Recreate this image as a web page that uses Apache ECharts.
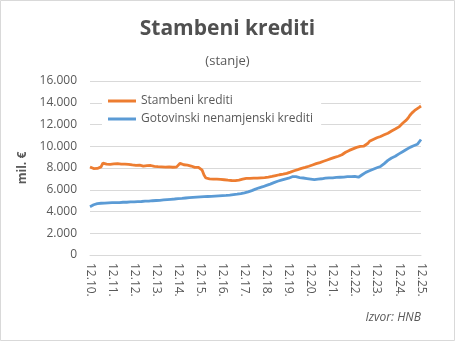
<!DOCTYPE html>
<html><head><meta charset="utf-8">
<script src="https://cdn.jsdelivr.net/npm/echarts@6/dist/echarts.min.js"></script>
<style>html,body{margin:0;padding:0;background:#fff}#c{width:455px;height:341px}</style>
</head><body><div id="c"></div>
<script>
// Monthly data, 12.2010 .. 12.2025 (mil. €)
const startYear = 2010;
const tickYears = ['12.10.','12.11.','12.12.','12.13.','12.14.','12.15.','12.16.','12.17.','12.18.','12.19.','12.20.','12.21.','12.22.','12.23.','12.24.','12.25.'];
const stambeni = [8100,
 7980,7950,7940,7960,7930,8100,8450,8400,8350,8380,8330,8360,
 8370,8320,8400,8380,8350,8390,8360,8300,8340,8330,8280,8300,
 8250,8310,8270,8200,8180,8240,8210,8170,8230,8200,8150,8180,
 8120,8160,8100,8140,8080,8060,8100,8050,8070,8040,8080,8060,
 8430,8380,8300,8250,8270,8200,8180,8150,8060,8080,8050,8000,
 7800,7350,7080,7030,7000,6990,6970,6960,6980,6950,6960,6940,
 6920,6900,6880,6860,6850,6840,6830,6850,6890,6930,6980,7020,
 7040,7030,7050,7040,7060,7050,7070,7080,7100,7090,7120,7140,
 7160,7180,7220,7250,7300,7330,7380,7400,7430,7470,7500,7550,
 7620,7680,7750,7800,7850,7900,7960,8000,8050,8100,8160,8200,
 8280,8340,8400,8450,8500,8560,8620,8680,8740,8800,8860,8920,
 8980,9030,9080,9150,9220,9320,9450,9550,9620,9700,9760,9820,
 9900,9960,9990,10000,10020,10100,10250,10450,10550,10620,10700,10780,
 10850,10900,10980,11050,11120,11200,11300,11400,11500,11580,11680,11780,
 11950,12110,12250,12400,12600,12850,13050,13200,13350,13450,13580,13700];
const gotovinski = [4440,
 4550,4620,4680,4730,4750,4760,4780,4770,4790,4800,4780,4810,
 4800,4820,4830,4810,4840,4850,4860,4850,4870,4880,4870,4890,
 4900,4910,4890,4920,4940,4950,4960,4950,4970,4990,5000,5010,
 5020,5030,5040,5060,5080,5090,5110,5120,5140,5150,5170,5190,
 5200,5210,5230,5240,5260,5270,5290,5300,5310,5320,5330,5340,
 5350,5360,5370,5380,5390,5400,5410,5420,5430,5440,5450,5460,
 5470,5480,5500,5510,5530,5550,5570,5590,5620,5650,5680,5720,
 5760,5800,5850,5920,6000,6060,6120,6180,6230,6280,6330,6400,
 6450,6520,6590,6650,6710,6780,6830,6880,6930,6980,7030,7060,
 7120,7200,7220,7200,7150,7120,7100,7080,7050,7030,7000,6980,
 6950,6930,6960,6980,7000,7010,7040,7060,7080,7090,7110,7100,
 7120,7130,7140,7150,7170,7160,7190,7200,7180,7210,7200,7220,
 7180,7150,7260,7380,7500,7600,7660,7740,7800,7880,7950,8020,
 8080,8140,8250,8400,8550,8700,8850,8920,8980,9080,9200,9300,
 9400,9500,9600,9700,9800,9900,9980,10040,10100,10180,10270,10620];
const seriesNames = ['Stambeni krediti','Gotovinski nenamjenski krediti'];

const categories = [];
for (let i = 0; i < stambeni.length; i++) {
  const m = (11 + i) % 12 + 1;
  const y = startYear + Math.floor((11 + i) / 12);
  categories.push(String(m).padStart(2,'0') + '.' + String(y % 100).padStart(2,'0') + '.');
}
const font = '"Open Sans", sans-serif';
const txt = '#595959';
const chart = echarts.init(document.getElementById('c'), null, {renderer:'canvas'});
chart.setOption({
  animation:false,
  backgroundColor:'#fff',
  title:[
    {text:'Stambeni krediti', left:'center', top:14, textStyle:{fontFamily:font, fontSize:21, fontWeight:'bold', color:'#505050'}},
    {text:'(stanje)', left:'center', top:50, textStyle:{fontFamily:font, fontSize:13, fontWeight:'normal', color:txt}}
  ],
  graphic:[
    {type:'rect', shape:{x:0.5,y:0.5,width:454,height:340}, style:{fill:'none', stroke:'#d9d9d9', lineWidth:1}, z:-1},
    {type:'text', right:34, top:312, style:{text:'Izvor: HNB', font:'italic 12px "Open Sans", sans-serif', fill:txt}}
  ],
  legend:{
    left:102, top:94, orient:'vertical', itemGap:6,
    backgroundColor:'#fff', padding:[1,8,1,6],
    icon:'rect', itemWidth:28, itemHeight:3, itemHeight:16,
    textStyle:{fontFamily:font, fontSize:12, color:txt},
    data:seriesNames.map(n => ({name:n, icon:'path://M0,6.5L28,6.5L28,9.5L0,9.5Z'}))
  },
  grid:{left:90, right:34, top:81, bottom:86},
  xAxis:{
    type:'category', boundaryGap:false, data:categories,
    axisLine:{show:true, lineStyle:{color:'#d9d9d9'}},
    axisTick:{show:false},
    axisLabel:{interval:11, rotate:-90, margin:8, fontFamily:font, fontSize:12, color:txt,
      formatter:(v, i) => tickYears[Math.floor(i/12)] || v}
  },
  yAxis:{
    type:'value', min:0, max:16000, interval:2000,
    name:'mil. €', nameLocation:'middle', nameRotate:90, nameGap:56,
    nameTextStyle:{fontFamily:font, fontSize:12, fontWeight:'bold', color:txt},
    axisLine:{show:false}, axisTick:{show:false},
    splitLine:{lineStyle:{color:'#d9d9d9', width:1}},
    axisLabel:{margin:13, fontFamily:font, fontSize:12, color:txt,
      formatter:v => v === 0 ? '0' : (v/1000) + '.000'}
  },
  series:[
    {name:seriesNames[0], type:'line', data:stambeni, showSymbol:false, symbol:'none', lineStyle:{width:2.8, color:'#ED7D31'}, itemStyle:{color:'#ED7D31'}},
    {name:seriesNames[1], type:'line', data:gotovinski, showSymbol:false, symbol:'none', lineStyle:{width:2.8, color:'#5B9BD5'}, itemStyle:{color:'#5B9BD5'}}
  ]
});
</script></body></html>
